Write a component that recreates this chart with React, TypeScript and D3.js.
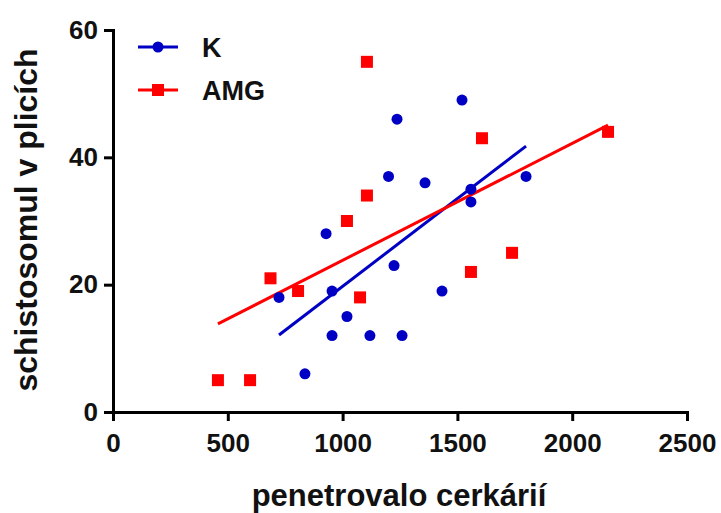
import React, { useRef, useEffect } from 'react';
import * as d3 from 'd3';

// K group (blue circles)
const kX = [723, 836, 928, 954, 954, 1019, 1119, 1200, 1224, 1237, 1259, 1359, 1433, 1520, 1559, 1559, 1799];
const kY = [18, 6, 28, 19, 12, 15, 12, 37, 23, 46, 12, 36, 19, 49, 35, 33, 37];
// AMG group (red squares)
const amgX = [457, 597, 686, 806, 1019, 1076, 1106, 1106, 1559, 1607, 1738, 2156];
const amgY = [5, 5, 21, 19, 30, 18, 34, 55, 22, 43, 25, 44];

const xTicks = [0, 500, 1000, 1500, 2000, 2500];
const yTicks = [0, 20, 40, 60];
const seriesNames = ['K', 'AMG'];

const BLUE = '#0000c4';
const RED = '#ff0000';
const FONT = '"Liberation Sans", Arial, sans-serif';

// least squares fit, returned as two end points over the data range
const fitLine = (xs: number[], ys: number[]) => {
  const mx = d3.mean(xs) as number;
  const my = d3.mean(ys) as number;
  let sxy = 0;
  let sxx = 0;
  xs.forEach((x, i) => {
    sxy += (x - mx) * (ys[i] - my);
    sxx += (x - mx) * (x - mx);
  });
  const slope = sxy / sxx;
  const x0 = d3.min(xs) as number;
  const x1 = d3.max(xs) as number;
  return [
    [x0, my + slope * (x0 - mx)],
    [x1, my + slope * (x1 - mx)],
  ];
};

const App = () => {
  const ref = useRef<SVGSVGElement>(null);

  useEffect(() => {
    const svg = d3.select(ref.current);
    svg.selectAll('*').remove();

    const x = d3.scaleLinear().domain([0, 2500]).range([113, 687]);
    const y = d3.scaleLinear().domain([0, 60]).range([412, 30]);

    // axes
    const yAxis = svg.append('g')
      .attr('transform', 'translate(113,0)')
      .call(d3.axisLeft(y).tickValues(yTicks).tickFormat(d3.format('d')).tickSize(9).tickSizeOuter(0).tickPadding(6));
    const xAxis = svg.append('g')
      .attr('transform', 'translate(0,412)')
      .call(d3.axisBottom(x).tickValues(xTicks).tickFormat(d3.format('d')).tickSize(9).tickSizeOuter(0).tickPadding(13));

    [yAxis, xAxis].forEach(g => {
      g.select('.domain').attr('stroke', '#000').attr('stroke-width', 3).attr('stroke-linecap', 'square');
      g.selectAll('.tick line').attr('stroke', '#000').attr('stroke-width', 3);
      g.selectAll('.tick text')
        .attr('fill', '#111')
        .style('font-family', FONT)
        .style('font-size', '26px')
        .style('font-weight', 'bold');
    });

    // regression lines
    const line = d3.line<number[]>().x(d => x(d[0])).y(d => y(d[1]));
    svg.append('path')
      .attr('d', line(fitLine(kX, kY)))
      .attr('stroke', BLUE).attr('stroke-width', 3).attr('fill', 'none');
    svg.append('path')
      .attr('d', line(fitLine(amgX, amgY)))
      .attr('stroke', RED).attr('stroke-width', 3).attr('fill', 'none');

    // points
    svg.append('g').selectAll('circle')
      .data(kX.map((v, i) => [v, kY[i]]))
      .join('circle')
      .attr('cx', d => x(d[0]))
      .attr('cy', d => y(d[1]))
      .attr('r', 5.5)
      .attr('fill', BLUE);

    const sq = 12;
    svg.append('g').selectAll('rect')
      .data(amgX.map((v, i) => [v, amgY[i]]))
      .join('rect')
      .attr('x', d => x(d[0]) - sq / 2)
      .attr('y', d => y(d[1]) - sq / 2)
      .attr('width', sq)
      .attr('height', sq)
      .attr('fill', RED);

    // legend
    const legend = svg.append('g');
    seriesNames.forEach((name, i) => {
      const ly = 47 + i * 43;
      const col = i === 0 ? BLUE : RED;
      legend.append('line')
        .attr('x1', 138).attr('x2', 178).attr('y1', ly).attr('y2', ly)
        .attr('stroke', col).attr('stroke-width', 3);
      if (i === 0) {
        legend.append('circle').attr('cx', 158).attr('cy', ly).attr('r', 5.5).attr('fill', col);
      } else {
        legend.append('rect').attr('x', 152).attr('y', ly - 6).attr('width', 12).attr('height', 12).attr('fill', col);
      }
      legend.append('text')
        .attr('x', 202).attr('y', ly)
        .attr('dy', '0.36em')
        .attr('fill', '#111')
        .style('font-family', FONT)
        .style('font-size', '27px')
        .style('font-weight', 'bold')
        .text(name);
    });

    // axis titles
    svg.append('text')
      .attr('x', 399).attr('y', 506)
      .attr('text-anchor', 'middle')
      .attr('fill', '#111')
      .style('font-family', FONT)
      .style('font-size', '31px')
      .style('font-weight', 'bold')
      .text('penetrovalo cerkárií');
    svg.append('text')
      .attr('transform', 'translate(37,220) rotate(-90)')
      .attr('text-anchor', 'middle')
      .attr('fill', '#111')
      .style('font-family', FONT)
      .style('font-size', '32px')
      .style('font-weight', 'bold')
      .text('schistosomul v plicích');
  }, []);

  return (
    <svg
      ref={ref}
      width={721}
      height={513}
      style={{ position: 'absolute', left: 0, top: 0, background: '#fff' }}
    />
  );
};

export default App;
